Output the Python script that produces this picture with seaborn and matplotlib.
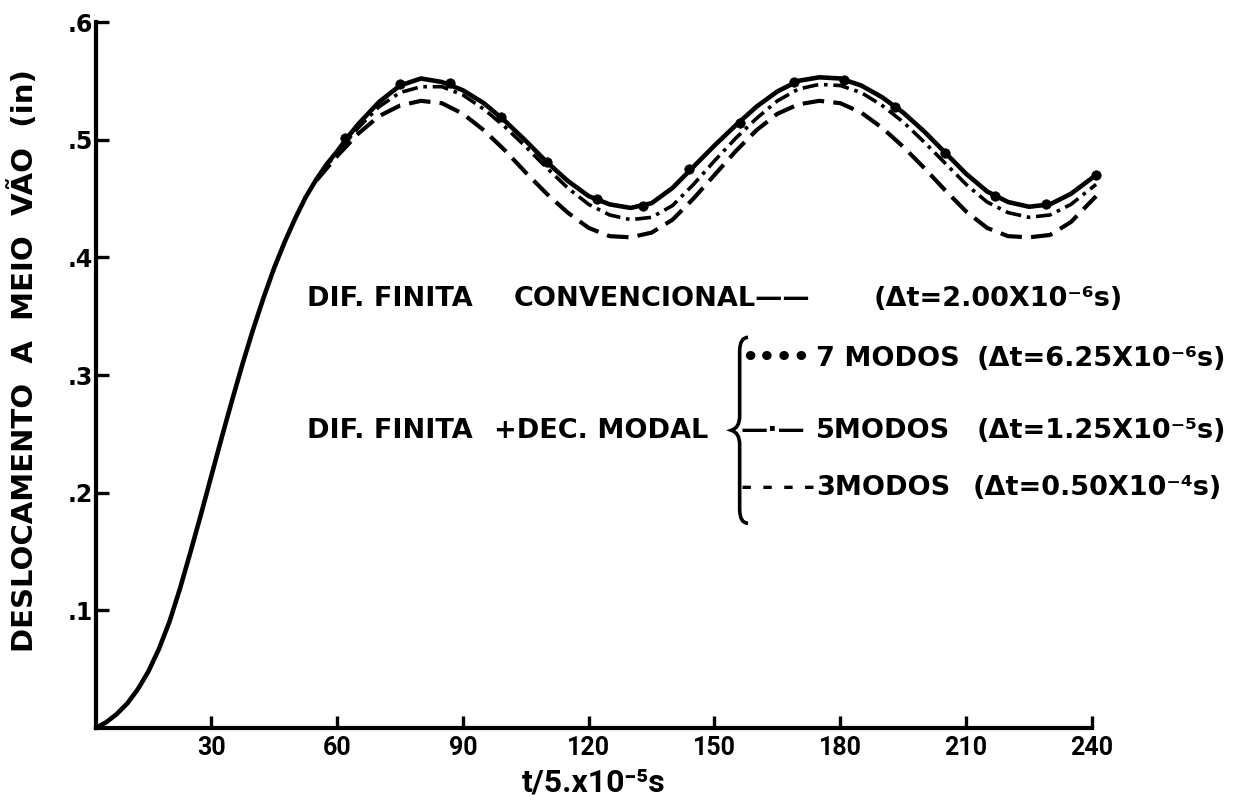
import numpy as np
import pandas as pd
import matplotlib
matplotlib.use("Agg")
import matplotlib.pyplot as plt
from matplotlib.path import Path
from matplotlib.patches import PathPatch
import seaborn as sns

# --- data (t in units of 5e-5 s, displacement in inches) ---
t_conv = [2.5, 5, 7.5, 10, 12.5, 15, 17.5, 20, 22.5, 25, 27.5, 30, 32.5, 35, 37.5, 40, 42.5,
          45, 47.5, 50, 52.5, 55, 57.5, 60, 62.5, 65, 70, 75, 80, 85, 90, 95,
          100, 105, 110, 115, 120, 125, 130, 135, 140, 145, 150, 155, 160, 165, 170, 175,
          180, 185, 190, 195, 200, 205, 210, 215, 220, 225, 230, 235, 241]
y_conv = [0.000, 0.005, 0.012, 0.021, 0.033, 0.048, 0.067, 0.090, 0.118, 0.149, 0.181, 0.214,
          0.247, 0.279, 0.310, 0.339, 0.366, 0.391, 0.413, 0.433, 0.451, 0.466, 0.479, 0.490,
          0.502, 0.513, 0.532, 0.546, 0.552, 0.549, 0.542, 0.531, 0.516, 0.499, 0.481, 0.465,
          0.452, 0.445, 0.442, 0.446, 0.459, 0.477, 0.495, 0.512, 0.528, 0.541, 0.550, 0.553,
          0.552, 0.546, 0.536, 0.523, 0.507, 0.489, 0.471, 0.456, 0.447, 0.443, 0.445, 0.454,
          0.470]

t_modal = [55, 60, 65, 70, 75, 80, 85, 90, 95, 100, 105, 110, 115, 120, 125, 130, 135, 140,
           145, 150, 155, 160, 165, 170, 175, 180, 185, 190, 195, 200, 205, 210, 215, 220,
           225, 230, 235, 241]
y_5modos = [0.466, 0.489, 0.510, 0.528, 0.540, 0.545, 0.545, 0.538, 0.526, 0.511, 0.494, 0.476,
            0.459, 0.445, 0.436, 0.432, 0.434, 0.444, 0.462, 0.482, 0.501, 0.518, 0.533, 0.543,
            0.547, 0.546, 0.540, 0.529, 0.515, 0.498, 0.480, 0.462, 0.447, 0.438, 0.434, 0.436,
            0.445, 0.462]
y_3modos = [0.465, 0.486, 0.505, 0.520, 0.529, 0.533, 0.531, 0.522, 0.508, 0.491, 0.472, 0.454,
            0.438, 0.425, 0.418, 0.417, 0.421, 0.432, 0.450, 0.470, 0.490, 0.508, 0.522, 0.530,
            0.533, 0.531, 0.523, 0.510, 0.494, 0.476, 0.457, 0.439, 0.425, 0.418, 0.417, 0.419,
            0.430, 0.452]

t_7modos = [62, 75, 87, 99, 110, 122, 133, 144, 156, 169, 181, 193, 205, 217, 229, 241]
y_7modos = [0.501, 0.547, 0.548, 0.519, 0.481, 0.450, 0.444, 0.475, 0.514, 0.549, 0.551,
            0.528, 0.489, 0.452, 0.445, 0.470]

x_ticks = [30, 60, 90, 120, 150, 180, 210, 240]
y_ticks = [0.1, 0.2, 0.3, 0.4, 0.5, 0.6]
y_ticklabels = [".1", ".2", ".3", ".4", ".5", ".6"]

sns.set_style("ticks")
plt.rcParams["font.family"] = ["DejaVu Sans"]
for key in ["text.color", "axes.labelcolor", "xtick.color", "ytick.color", "axes.edgecolor"]:
    plt.rcParams[key] = "black"
narrow = ["Liberation Sans Narrow", "Roboto", "DejaVu Sans"]

fig = plt.figure(figsize=(12.38, 8), dpi=100)
ax = fig.add_axes([0.0775, 0.09, 0.8045, 0.8825])

conv = pd.DataFrame({"t": t_conv, "y": y_conv})
m5 = pd.DataFrame({"t": t_modal, "y": y_5modos})
m3 = pd.DataFrame({"t": t_modal, "y": y_3modos})
m7 = pd.DataFrame({"t": t_7modos, "y": y_7modos})

lw = 3.0
sns.lineplot(data=m3, x="t", y="y", ax=ax, color="black", lw=lw, clip_on=False)
ax.lines[-1].set_dashes((5.2, 2.2))
sns.lineplot(data=m5, x="t", y="y", ax=ax, color="black", lw=lw - 0.4, clip_on=False)
ax.lines[-1].set_dashes((4.4, 1.6, 1.0, 1.6))
sns.lineplot(data=conv, x="t", y="y", ax=ax, color="black", lw=lw + 0.3, clip_on=False)
sns.scatterplot(data=m7, x="t", y="y", ax=ax, color="black", s=46, edgecolor="black",
                zorder=5, clip_on=False)

ax.set_xlim(2.5, 240)
ax.set_ylim(0, 0.6)
ax.set_xticks(x_ticks)
ax.set_xticklabels([str(v) for v in x_ticks], fontsize=18, fontweight="bold", family=narrow)
ax.set_yticks(y_ticks)
ax.set_yticklabels(y_ticklabels, fontsize=17, fontweight="bold")
ax.tick_params(direction="in", length=9, width=2.4)
ax.tick_params(axis="y", pad=2)
ax.tick_params(axis="x", pad=6)
for side in ["top", "right"]:
    ax.spines[side].set_visible(False)
for side in ["left", "bottom"]:
    ax.spines[side].set_linewidth(3)

ax.set_ylabel("DESLOCAMENTO  A  MEIO  VÃO  (in)", fontsize=21, fontweight="bold")
ax.yaxis.set_label_coords(-0.057, 0.52)
ax.set_xlabel("t/5.x10⁻⁵s", fontsize=23, fontweight="bold", labelpad=5, family=narrow)

# --- lettering / key ---
tk = dict(fontsize=19.5, fontweight="bold", va="center", ha="left")
ax.text(52.8, 0.365, "DIF. FINITA", **tk)
ax.text(102, 0.365, "CONVENCIONAL——", **tk)
ax.text(188, 0.365, "(Δt=2.00X10⁻⁶s)", **tk)
ax.text(52.8, 0.252, "DIF. FINITA", **tk)
ax.text(97.5, 0.252, "+DEC. MODAL", **tk)
ax.text(156.3, 0.314, "••••", **tk)
ax.text(156.3, 0.252, "—·—", **tk)
ax.text(156.3, 0.204, "- - - -", **tk)
ax.text(174.2, 0.314, "7 MODOS", **tk)
ax.text(174.2, 0.252, "5MODOS", **tk)
ax.text(174.2, 0.204, "3MODOS", **tk)
ax.text(212.5, 0.314, "(Δt=6.25X10⁻⁶s)", **tk)
ax.text(212.5, 0.252, "(Δt=1.25X10⁻⁵s)", **tk)
ax.text(211.5, 0.204, "(Δt=0.50X10⁻⁴s)", **tk)

# curly brace grouping the modal curves
bx, top, mid, bot, w = 156.0, 0.332, 0.253, 0.174, 2.0
verts = [(bx + w, top), (bx, top), (bx, top - 0.012), (bx, mid + 0.012),
         (bx, mid + 0.002), (bx - w, mid), (bx, mid - 0.002), (bx, mid - 0.012),
         (bx, bot + 0.012), (bx, bot), (bx + w, bot)]
codes = [Path.MOVETO, Path.CURVE3, Path.CURVE3, Path.LINETO,
         Path.CURVE3, Path.CURVE3, Path.CURVE3, Path.CURVE3,
         Path.LINETO, Path.CURVE3, Path.CURVE3]
ax.add_patch(PathPatch(Path(verts, codes), fill=False, lw=2.6, color="black"))

fig.savefig("out.png", dpi=100, facecolor="white")
